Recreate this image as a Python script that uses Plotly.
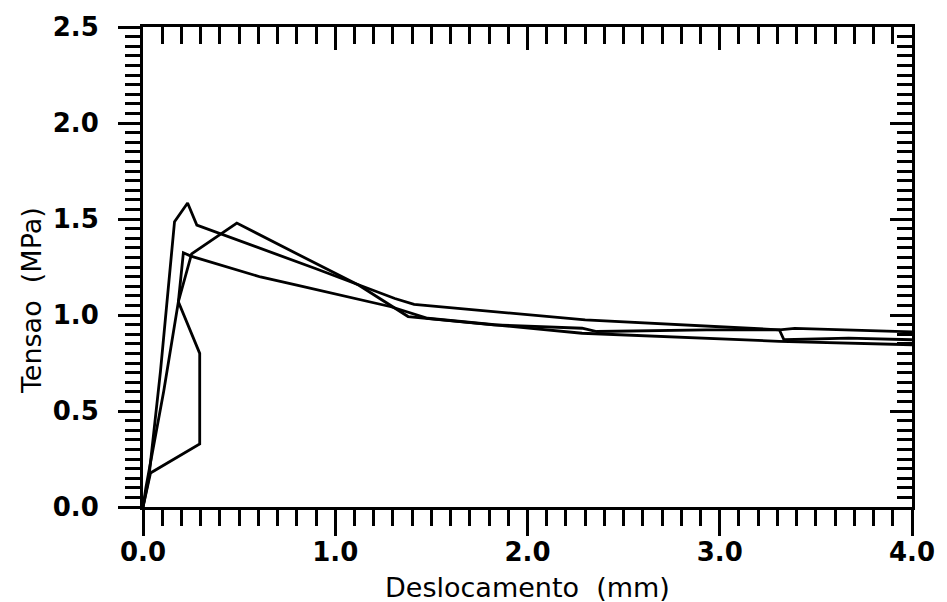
import plotly.graph_objects as go

# Displacement (mm) / stress (MPa) readings for the three specimens
spec_a_x = [0.0, 0.03, 0.091, 0.164, 0.232, 0.28, 0.90, 1.31, 1.41, 2.30, 3.31, 3.39, 4.0]
spec_a_y = [0.0, 0.15, 0.708, 1.486, 1.583, 1.468, 1.241, 1.086, 1.055, 0.975, 0.923, 0.93, 0.912]

spec_b_x = [0.0, 0.015, 0.108, 0.184, 0.253, 0.488, 0.80, 1.123, 1.379, 1.823, 2.284, 2.36, 2.93, 3.31, 3.334, 3.67, 4.0]
spec_b_y = [0.0, 0.10, 0.604, 1.069, 1.319, 1.479, 1.319, 1.155, 0.992, 0.949, 0.931, 0.914, 0.923, 0.923, 0.871, 0.88, 0.871]

spec_c_x = [0.0, 0.039, 0.295, 0.295, 0.184, 0.21, 0.249, 0.611, 0.80, 1.29, 1.48, 1.823, 2.284, 3.31, 4.0]
spec_c_y = [0.0, 0.177, 0.328, 0.80, 1.069, 1.324, 1.307, 1.198, 1.155, 1.043, 0.983, 0.95, 0.905, 0.863, 0.845]

x_ticks = [0.0, 1.0, 2.0, 3.0, 4.0]
y_ticks = [0.0, 0.5, 1.0, 1.5, 2.0, 2.5]

x_title = "Deslocamento  (mm)"
y_title = "Tensao  (MPa)"

FONT = "DejaVu Sans"
INK = "black"

fig = go.Figure()
for xs, ys in [(spec_a_x, spec_a_y), (spec_b_x, spec_b_y), (spec_c_x, spec_c_y)]:
    fig.add_trace(go.Scatter(x=xs, y=ys, mode="lines",
                             line=dict(color=INK, width=2.8),
                             showlegend=False, hoverinfo="skip"))

# mirror axes (top / right) carry inward ticks only
fig.add_trace(go.Scatter(x=[x_ticks[0], x_ticks[-1]], y=[y_ticks[0], y_ticks[-1]],
                         xaxis="x2", yaxis="y2", mode="lines",
                         line=dict(width=0, color="rgba(0,0,0,0)"),
                         showlegend=False, hoverinfo="skip"))

axis_common = dict(showgrid=False, zeroline=False, showline=True,
                   linecolor=INK, linewidth=3, tickcolor=INK, tickwidth=2.8)
minor_common = dict(tickwidth=2.8, tickcolor=INK, showgrid=False)
tick_font = dict(family=FONT, size=26, weight="bold", color=INK)

fig.update_layout(
    width=947, height=602,
    margin=dict(l=143, r=22, t=23, b=95),
    paper_bgcolor="white", plot_bgcolor="white",
    font=dict(family=FONT, color=INK, size=26),
    xaxis=dict(range=[x_ticks[0], x_ticks[-1]], tickvals=x_ticks,
               ticktext=[f"{v:.1f}" for v in x_ticks],
               ticks="outside", ticklen=26,
               minor=dict(dtick=0.1, ticks="outside", ticklen=16, **minor_common),
               tickfont=tick_font, ticklabelstandoff=-6,
               ticklabeloverflow="allow",
               **axis_common),
    yaxis=dict(range=[y_ticks[0], y_ticks[-1]], tickvals=y_ticks,
               ticktext=[f"{v:.1f}" for v in y_ticks],
               ticks="outside", ticklen=22,
               minor=dict(dtick=0.05, ticks="outside", ticklen=15, **minor_common),
               tickfont=tick_font, ticklabelstandoff=14,
               ticklabeloverflow="allow",
               **axis_common),
    xaxis2=dict(range=[x_ticks[0], x_ticks[-1]], overlaying="x", side="top",
                tickvals=x_ticks, showticklabels=False,
                ticks="inside", ticklen=23,
                minor=dict(dtick=0.1, ticks="inside", ticklen=17, **minor_common),
                **axis_common),
    yaxis2=dict(range=[y_ticks[0], y_ticks[-1]], overlaying="y", side="right",
                tickvals=y_ticks, showticklabels=False,
                ticks="inside", ticklen=22,
                minor=dict(dtick=0.05, ticks="inside", ticklen=15, **minor_common),
                **axis_common),
    annotations=[
        dict(text=x_title, xref="paper", yref="paper", x=0.5, y=-0.168,
             xanchor="center", yanchor="middle", showarrow=False,
             font=dict(family=FONT, size=27, color=INK)),
        dict(text=y_title, xref="paper", yref="paper", x=-0.145, y=0.43,
             xanchor="center", yanchor="middle", textangle=-90, showarrow=False,
             font=dict(family=FONT, size=27, color=INK)),
    ],
)

fig.write_html("out.html")
